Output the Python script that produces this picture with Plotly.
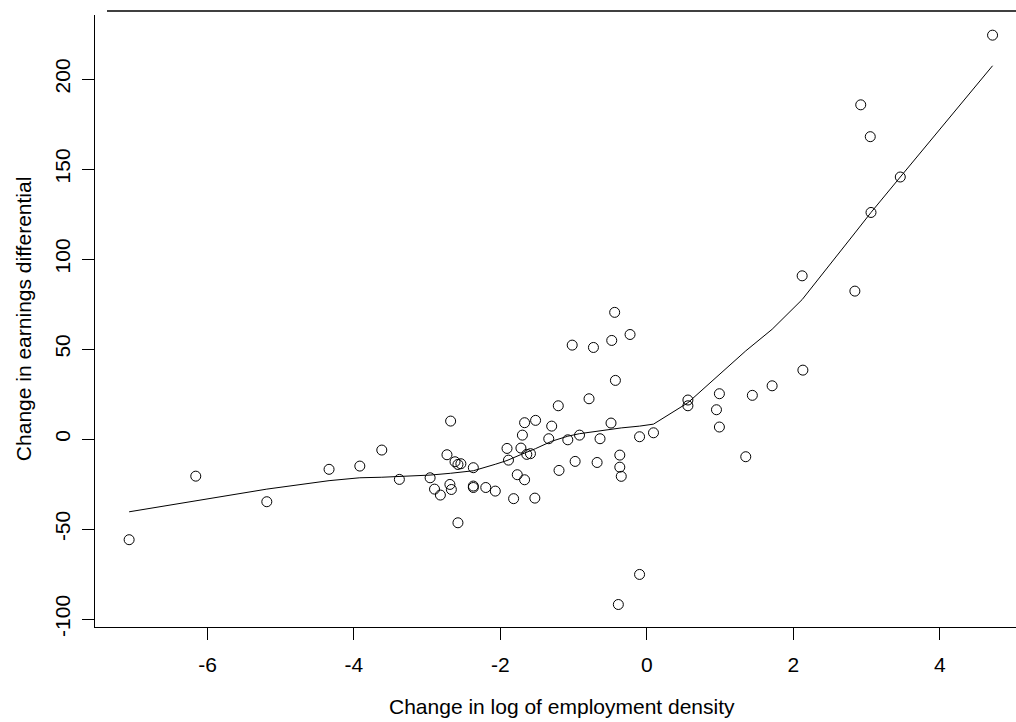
import plotly.graph_objects as go

# Scatter data: change in log employment density vs change in earnings differential
density_change = [-7.07, -6.16, -5.19, -4.34, -3.92, -3.62, -3.38, -2.96, -2.90, -2.82,
                  -2.68, -2.73, -2.69, -2.67, -2.62, -2.58, -2.54, -2.58, -2.37, -2.37,
                  -2.37, -2.20, -2.07, -1.91, -1.89, -1.82, -1.77, -1.72, -1.70, -1.67,
                  -1.67, -1.64, -1.59, -1.52, -1.53, -1.34, -1.30, -1.21, -1.20, -1.08,
                  -1.02, -0.98, -0.92, -0.79, -0.73, -0.68, -0.64, -0.48, -0.44, -0.43,
                  -0.49, -0.37, -0.37, -0.35, -0.39, -0.10, -0.23, -0.10, 0.09, 0.56,
                  0.56, 0.99, 0.95, 0.99, 1.35, 1.44, 1.71, 2.13, 2.12, 2.84,
                  3.06, 2.92, 3.05, 3.46, 4.72]
earnings_change = [-55.9, -20.6, -34.8, -16.8, -15.0, -6.1, -22.4, -21.5, -27.8, -31.1,
                   10.0, -8.7, -25.2, -28.0, -12.6, -14.1, -13.7, -46.5, -15.9, -26.1,
                   -26.9, -26.9, -28.9, -5.2, -11.7, -33.1, -19.8, -5.0, 2.2, 9.1,
                   -22.6, -8.5, -8.1, 10.4, -32.8, 0.2, 7.2, 18.5, -17.4, -0.4,
                   52.2, -12.4, 2.2, 22.4, 50.9, -13.0, 0.2, 54.8, 70.4, 32.6,
                   8.9, -8.9, -15.6, -20.7, -91.9, -75.2, 58.1, 1.3, 3.5, 21.7,
                   18.5, 25.2, 16.3, 6.7, -9.8, 24.3, 29.6, 38.3, 90.7, 82.2,
                   125.9, 185.7, 168.0, 145.6, 224.4]

# Smoothed (lowess) fit, at the data x positions
fit_x = [-7.07, -6.16, -5.19, -4.34, -3.92, -3.62, -3.38, -2.96, -2.68, -2.37,
         -2.07, -1.91, -1.72, -1.52, -1.30, -1.08, -0.92, -0.64, -0.35, -0.10,
         0.09, 0.56, 0.99, 1.35, 1.71, 2.12, 2.84, 3.06, 3.46, 4.72]
fit_y = [-40.4, -34.4, -27.8, -23.1, -21.5, -21.2, -20.9, -20.0, -19.0, -17.6,
         -14.0, -11.9, -8.6, -5.3, -1.2, 1.6, 3.0, 4.6, 6.2, 7.2,
         8.3, 20.2, 35.8, 49.0, 61.0, 77.5, 114.5, 125.9, 145.6, 207.4]

x_ticks = [-6, -4, -2, 0, 2, 4]
y_ticks = [-100, -50, 0, 50, 100, 150, 200]
x_title = "Change in log of employment density"
y_title = "Change in earnings differential"

FONT = "Liberation Sans, Arial, Helvetica, sans-serif"

fig = go.Figure()
fig.add_trace(go.Scatter(
    x=density_change, y=earnings_change, mode="markers",
    marker=dict(symbol="circle-open", size=10, color="black",
                line=dict(width=1, color="black")),
    showlegend=False, hoverinfo="skip"))
fig.add_trace(go.Scatter(
    x=fit_x, y=fit_y, mode="lines",
    line=dict(color="black", width=1),
    showlegend=False, hoverinfo="skip"))

fig.update_layout(
    width=1016, height=722,
    margin=dict(l=95, r=0, t=15, b=95),
    paper_bgcolor="white", plot_bgcolor="white",
    font=dict(family=FONT, size=21, color="black"),
    xaxis=dict(range=[-7.536, 5.04], tickvals=x_ticks, ticktext=[str(v) for v in x_ticks],
               showgrid=False, zeroline=False, showline=True, linecolor="black",
               linewidth=1, ticks="outside", ticklen=12, tickwidth=1, tickcolor="black",
               tickfont=dict(size=21, family=FONT), ticklabelstandoff=7),
    yaxis=dict(range=[-104.4, 235.6], tickvals=y_ticks, ticktext=[str(v) for v in y_ticks],
               showgrid=False, zeroline=False, showline=True, linecolor="black",
               linewidth=1, ticks="outside", ticklen=12, tickwidth=1, tickcolor="black",
               tickangle=-90, tickfont=dict(size=21, family=FONT), ticklabelstandoff=4),
    shapes=[dict(type="line", xref="paper", yref="paper",
                 x0=0.013, x1=1.0, y0=1.0065, y1=1.0065,
                 line=dict(color="black", width=1.5))],
    annotations=[
        dict(text=x_title, xref="paper", yref="paper", x=0.507, y=-0.1307,
             xanchor="center", yanchor="middle", showarrow=False,
             font=dict(size=21, family=FONT)),
        dict(text=y_title, xref="paper", yref="paper", x=-0.0782, y=0.503,
             xanchor="center", yanchor="middle", textangle=-90, showarrow=False,
             font=dict(size=21, family=FONT)),
    ],
)

fig.write_html("out.html")
